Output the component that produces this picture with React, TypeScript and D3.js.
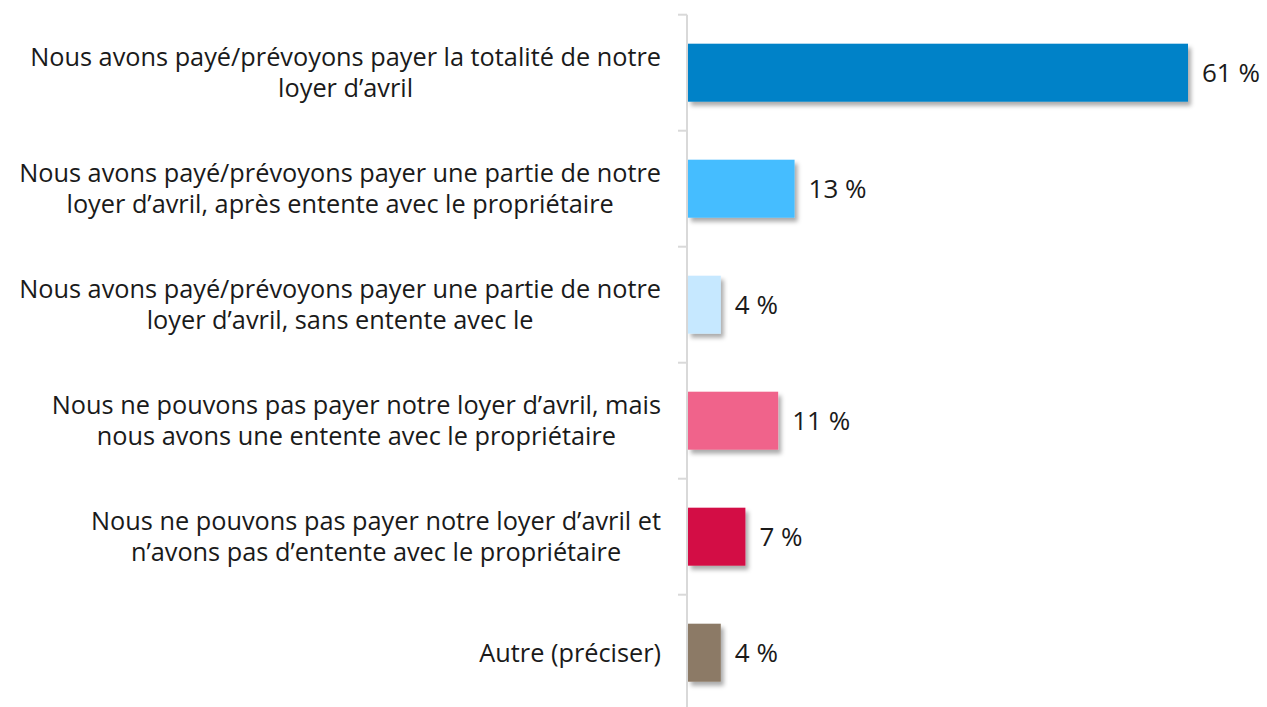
import React, { useEffect, useRef } from "react";
import * as d3 from "d3";

const categories = [
  "Nous avons payé/prévoyons payer la totalité de notre\nloyer d’avril",
  "Nous avons payé/prévoyons payer une partie de notre\nloyer d’avril, après entente avec le propriétaire",
  "Nous avons payé/prévoyons payer une partie de notre\nloyer d’avril, sans entente avec le",
  "Nous ne pouvons pas payer notre loyer d’avril, mais\nnous avons une entente avec le propriétaire",
  "Nous ne pouvons pas payer notre loyer d’avril et\nn’avons pas d’entente avec le propriétaire",
  "Autre (préciser)",
];
const values = [61, 13, 4, 11, 7, 4];
const barColors = ["#0082C8", "#45BDFF", "#C6E8FF", "#F0648B", "#D31145", "#8C7A66"];
const valueLabels = values.map((v) => `${v} %`);

const W = 1267;
const H = 707;
const FONT = "'Open Sans', sans-serif";

export default function App() {
  const ref = useRef<SVGSVGElement | null>(null);

  useEffect(() => {
    const svg = d3.select(ref.current);
    svg.selectAll("*").remove();

    const defs = svg.append("defs");
    const f = defs
      .append("filter")
      .attr("id", "shadow")
      .attr("x", "-10%")
      .attr("y", "-20%")
      .attr("width", "130%")
      .attr("height", "150%");
    f.append("feDropShadow")
      .attr("dx", 3)
      .attr("dy", 4)
      .attr("stdDeviation", 2.2)
      .attr("flood-color", "#000")
      .attr("flood-opacity", 0.33);

    const idx = categories.map((_, i) => i);
    const y = d3
      .scaleBand<number>()
      .domain(idx)
      .range([14.7, 710.7])
      .paddingInner(0.5)
      .paddingOuter(0.25);
    const x = d3.scaleLinear().domain([0, 61]).range([688, 1188]);

    // axis line
    svg
      .append("line")
      .attr("x1", 687)
      .attr("x2", 687)
      .attr("y1", 14.7)
      .attr("y2", H)
      .attr("stroke", "#d9d9d9")
      .attr("stroke-width", 2);
    const step = y.step();
    for (let i = 0; i <= categories.length; i++) {
      const yy = 14.7 + i * step;
      svg
        .append("line")
        .attr("x1", 678)
        .attr("x2", 687)
        .attr("y1", yy)
        .attr("y2", yy)
        .attr("stroke", "#d9d9d9")
        .attr("stroke-width", 2);
    }

    // bars
    svg
      .selectAll("rect.bar")
      .data(values)
      .join("rect")
      .attr("class", "bar")
      .attr("x", x(0))
      .attr("y", (_, i) => y(i)!)
      .attr("width", (d) => x(d) - x(0))
      .attr("height", y.bandwidth())
      .attr("fill", (_, i) => barColors[i])
      .attr("filter", "url(#shadow)");

    // value labels
    svg
      .selectAll("text.val")
      .data(valueLabels)
      .join("text")
      .attr("class", "val")
      .attr("x", (_, i) => x(values[i]) + 14)
      .attr("y", (_, i) => y(i)! + y.bandwidth() / 2)
      .attr("dy", "0.36em")
      .attr("font-family", FONT)
      .attr("font-size", 26)
      .attr("fill", "#1a1a1a")
      .text((d) => d);

    // category labels
    const right = 661;
    const lh = 31;
    categories.forEach((c, i) => {
      const lines = c.split("\n");
      const cy = y(i)! + y.bandwidth() / 2;
      const t = svg
        .append("text")
        .attr("class", "cat")
        .attr("font-family", FONT)
        .attr("font-size", 25.3)
        .attr("fill", "#1a1a1a")
        .attr("text-anchor", "middle");
      const spans = lines.map((ln, k) =>
        t
          .append("tspan")
          .attr("y", cy + (k - (lines.length - 1) / 2) * lh)
          .attr("dy", "0.35em")
          .text(ln)
      );
      const maxW =
        d3.max(spans, (s) => (s.node() as SVGTextContentElement).getComputedTextLength()) || 0;
      spans.forEach((s) => s.attr("x", right - maxW / 2));
    });
  }, []);

  return (
    <svg
      ref={ref}
      width={W}
      height={H}
      style={{ position: "absolute", left: 0, top: 0, background: "#fff" }}
    />
  );
}
